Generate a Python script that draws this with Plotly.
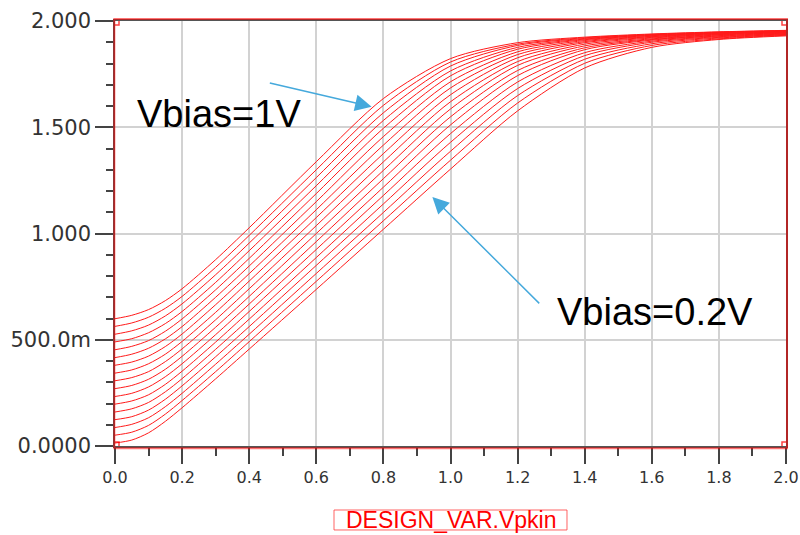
import plotly.graph_objects as go

# Swept input amplitude (V)
vpkin = [0.0, 0.05, 0.1, 0.15, 0.2, 0.3, 0.4, 0.6, 0.8, 1.0, 1.2, 1.4, 1.6, 1.8, 2.0]

# Output voltage for each bias point of the sweep (V)
vout_020 = [0.014, 0.028, 0.062, 0.116, 0.180, 0.316, 0.456, 0.737, 1.020, 1.303, 1.577, 1.779, 1.876, 1.913, 1.930]
vout_025 = [0.051, 0.065, 0.097, 0.150, 0.214, 0.350, 0.491, 0.775, 1.060, 1.345, 1.614, 1.801, 1.885, 1.916, 1.933]
vout_030 = [0.087, 0.102, 0.133, 0.185, 0.248, 0.385, 0.526, 0.812, 1.099, 1.387, 1.649, 1.820, 1.893, 1.920, 1.935]
vout_035 = [0.124, 0.138, 0.169, 0.220, 0.283, 0.420, 0.562, 0.850, 1.139, 1.429, 1.682, 1.837, 1.900, 1.923, 1.937]
vout_040 = [0.160, 0.175, 0.205, 0.255, 0.317, 0.455, 0.597, 0.887, 1.179, 1.470, 1.713, 1.851, 1.905, 1.926, 1.939]
vout_045 = [0.197, 0.212, 0.241, 0.290, 0.352, 0.489, 0.633, 0.925, 1.218, 1.511, 1.743, 1.865, 1.910, 1.929, 1.941]
vout_050 = [0.233, 0.248, 0.278, 0.326, 0.387, 0.524, 0.668, 0.962, 1.258, 1.549, 1.767, 1.874, 1.913, 1.931, 1.943]
vout_055 = [0.270, 0.285, 0.314, 0.361, 0.422, 0.559, 0.704, 1.000, 1.297, 1.586, 1.791, 1.883, 1.916, 1.934, 1.945]
vout_060 = [0.307, 0.322, 0.350, 0.397, 0.457, 0.594, 0.740, 1.037, 1.337, 1.620, 1.809, 1.891, 1.920, 1.936, 1.946]
vout_065 = [0.343, 0.358, 0.387, 0.432, 0.492, 0.629, 0.776, 1.075, 1.376, 1.653, 1.827, 1.898, 1.923, 1.938, 1.948]
vout_070 = [0.380, 0.395, 0.423, 0.468, 0.527, 0.665, 0.811, 1.112, 1.416, 1.685, 1.842, 1.903, 1.926, 1.940, 1.949]
vout_075 = [0.416, 0.432, 0.460, 0.504, 0.562, 0.700, 0.847, 1.150, 1.456, 1.714, 1.855, 1.908, 1.928, 1.942, 1.951]
vout_080 = [0.453, 0.469, 0.496, 0.540, 0.598, 0.735, 0.883, 1.188, 1.495, 1.742, 1.867, 1.912, 1.931, 1.943, 1.952]
vout_085 = [0.490, 0.505, 0.533, 0.576, 0.633, 0.770, 0.919, 1.225, 1.532, 1.765, 1.876, 1.915, 1.933, 1.945, 1.953]
vout_090 = [0.526, 0.542, 0.569, 0.612, 0.669, 0.806, 0.955, 1.263, 1.568, 1.788, 1.885, 1.918, 1.935, 1.946, 1.954]
vout_095 = [0.563, 0.579, 0.606, 0.648, 0.704, 0.841, 0.991, 1.300, 1.603, 1.807, 1.891, 1.921, 1.937, 1.948, 1.955]
vout_100 = [0.599, 0.615, 0.642, 0.684, 0.740, 0.877, 1.027, 1.338, 1.635, 1.823, 1.898, 1.924, 1.939, 1.949, 1.956]

vbias = [0.20, 0.25, 0.30, 0.35, 0.40, 0.45, 0.50, 0.55, 0.60,
         0.65, 0.70, 0.75, 0.80, 0.85, 0.90, 0.95, 1.00]
sweep = [vout_020, vout_025, vout_030, vout_035, vout_040, vout_045,
         vout_050, vout_055, vout_060, vout_065, vout_070, vout_075,
         vout_080, vout_085, vout_090, vout_095, vout_100]

y_tickvals = [0.0, 0.5, 1.0, 1.5, 2.0]
y_ticktext = ["0.0000", "500.0m", "1.000", "1.500", "2.000"]

fig = go.Figure()
for vb, vout in zip(vbias, sweep):
    fig.add_trace(go.Scatter(
        x=vpkin, y=vout, mode="lines", name=f"Vbias={vb:g}",
        line=dict(color="#ff1a1a", width=1, shape="spline", smoothing=0.8),
        showlegend=False, hoverinfo="x+y"))

axis_common = dict(
    showline=True, linecolor="#555555", linewidth=1.5, mirror=True,
    showgrid=True, gridcolor="#d2d2d2", gridwidth=1.5,
    zeroline=False, ticks="outside", tickcolor="#444444", tickwidth=1.5,
    automargin=False,
)

fig.update_xaxes(
    range=[0, 2], tickmode="linear", tick0=0, dtick=0.2, tickformat=".1f",
    ticklen=16,
    tickfont=dict(family="DejaVu Sans", size=16, color="#333333"),
    minor=dict(dtick=0.1, ticklen=8, tickcolor="#444444", tickwidth=1.5,
               ticks="outside", showgrid=False),
    **axis_common)
fig.update_yaxes(
    range=[0, 2], tickmode="array", tickvals=y_tickvals, ticktext=y_ticktext,
    ticklen=18,
    tickfont=dict(family="DejaVu Sans", size=21, color="#333333"),
    minor=dict(dtick=0.1, ticklen=7, tickcolor="#444444", tickwidth=1.5,
               ticks="outside", showgrid=False),
    **axis_common)

# Selection frame around the plotting area with corner handles
fig.add_shape(type="rect", xref="x domain", yref="y domain",
              x0=-0.001, x1=1.0015, y0=-0.005, y1=1.005,
              line=dict(color="rgba(255,0,0,0.55)", width=2), layer="above")
for cx, cy in [(0, 0), (2, 0), (0, 2), (2, 2)]:
    fig.add_shape(type="rect", xref="x", yref="y",
                  xsizemode="pixel", ysizemode="pixel",
                  xanchor=cx, yanchor=cy, x0=-4, x1=4, y0=-4, y1=4,
                  line=dict(color="rgba(255,0,0,0.75)", width=1.5),
                  layer="above")

label_font = dict(family="Liberation Sans", size=38, color="#000000")
fig.add_annotation(x=0.31, y=1.562, xref="x", yref="y", text="Vbias=1V",
                   showarrow=False, font=label_font,
                   xanchor="center", yanchor="middle")
fig.add_annotation(x=1.61, y=0.632, xref="x", yref="y", text="Vbias=0.2V",
                   showarrow=False, font=label_font,
                   xanchor="center", yanchor="middle")

arrow_style = dict(showarrow=True, arrowhead=2, arrowsize=2.2, arrowwidth=1.5,
                   arrowcolor="#45a9dc", standoff=0, text="",
                   xref="x", yref="y", axref="x", ayref="y")
fig.add_annotation(x=0.765, y=1.597, ax=0.457, ay=1.710, **arrow_style)
fig.add_annotation(x=0.946, y=1.172, ax=1.269, ay=0.664, **arrow_style)

# Axis name shown as a boxed label under the x axis
fig.add_shape(type="rect", xref="paper", yref="paper",
              x0=0.3264, x1=0.6736, y0=-0.1976, y1=-0.1506,
              line=dict(color="rgba(255,60,60,0.8)", width=1))
fig.add_annotation(x=0.5, y=-0.174, xref="paper", yref="paper",
                   text="DESIGN_VAR.Vpkin", showarrow=False,
                   font=dict(family="Liberation Sans", size=23, color="#ff0000"),
                   xanchor="center", yanchor="middle")

fig.update_layout(
    width=800, height=535,
    margin=dict(l=115, r=14, t=21, b=89),
    paper_bgcolor="white", plot_bgcolor="white",
)

fig.write_html("out.html")
